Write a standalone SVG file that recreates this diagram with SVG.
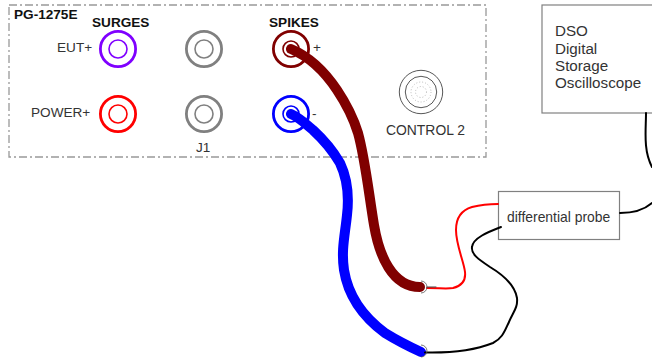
<svg xmlns="http://www.w3.org/2000/svg" width="652" height="358" viewBox="0 0 652 358">
<style>
text{font-family:"Liberation Sans",Arial,sans-serif;font-size:13.6px;fill:#333}
.b{font-weight:bold;fill:#111}
.d{font-size:15.2px}
.p{font-size:13.9px}
.o,.i{fill:#fff}
.o{stroke-width:2.8}
.i{stroke-width:1.6}
.box{fill:#fff;stroke:#808080;stroke-width:1.2}
.w{fill:none;stroke-linecap:round}
.th{stroke-width:10}
.tn{stroke-width:2}
.tip{fill:none;stroke:#555;stroke-width:.8}
</style>
<rect width="652" height="358" fill="#fff"/>
<g id="pg1275e"><rect x="9" y="5" width="477" height="152" fill="none" stroke="#999" stroke-width="1.3" stroke-dasharray="8 3 2 3"/><text x="14" y="19" class="b">PG-1275E</text><text x="92" y="27" class="b">SURGES</text><text x="269" y="27" class="b">SPIKES</text><text x="196" y="152">J1</text></g>
<g id="eut"><text x="57" y="52">EUT+</text><circle cx="118" cy="49" r="17.6" class="o" stroke="#7f00ff"/><circle cx="118" cy="49" r="9" class="i" stroke="#7f00ff"/></g>
<g id="power"><text x="31" y="117">POWER+</text><circle cx="118" cy="114" r="17.6" class="o" stroke="#f00"/><circle cx="118" cy="114" r="9" class="i" stroke="#f00"/></g>
<g id="j1a"><circle cx="204" cy="49" r="17.6" class="o" stroke="#808080"/><circle cx="204" cy="49" r="9" class="i" stroke="#808080"/></g>
<g id="j1b"><circle cx="204" cy="114" r="17.6" class="o" stroke="#808080"/><circle cx="204" cy="114" r="9" class="i" stroke="#808080"/></g>
<g id="spikes-plus"><circle cx="291" cy="49" r="17.6" class="o" stroke="#800000"/><circle cx="291" cy="49" r="8" class="i" stroke="#800000"/><text x="313" y="52">+</text></g>
<g id="spikes-minus"><circle cx="291" cy="114" r="17.6" class="o" stroke="#00f"/><circle cx="291" cy="114" r="8" class="i" stroke="#00f"/><text x="312" y="118">-</text></g>
<g id="control2" fill="none" stroke="#444"><circle cx="421" cy="92" r="21.7" stroke-width=".9"/><circle cx="421" cy="92" r="15.7" stroke-width=".9"/><circle cx="421" cy="92" r="10" stroke="#aaa" stroke-width=".8" stroke-dasharray="1 2"/><circle cx="421" cy="92" r="5.5" stroke="#aaa" stroke-width=".8" stroke-dasharray="1 2"/><text x="386" y="135" class="p" stroke="none">CONTROL 2</text></g>
<g id="dso"><rect x="542" y="5" width="115" height="108" class="box"/><text x="555" y="36" class="d">DSO</text><text x="555" y="54" class="d">Digital</text><text x="555" y="71" class="d">Storage</text><text x="555" y="88" class="d">Oscilloscope</text></g>
<g id="probe"><rect x="498.500" y="191.500" width="121" height="48" class="box"/><text x="507" y="222" class="p">differential probe</text></g>
<g id="connectors">
<path class="w th" stroke="#800000" d="M291 49C310 57 325 72 337 90C347 105 354 120 358 133C365 158 369 195 374 225C379 255 392 287 420 287"/>
<path class="w th" stroke="#00f" d="M291 114C300 118 307 125 313 130C325 141 333 151 340 163C348 180 349 198 347 215C345 235 341 250 344 270C348 295 362 316 385 333C398 341 410 347 421 352"/>
<path class="w tn" stroke="#f00" d="M427 288C440 288 447 289 453 288C461 286 466 281 465 272C464 262 456 245 456 230C456 218 462 210 472 207C480 205 490 204 498 204"/>
<path class="w" stroke="#444" stroke-width="1" d="M427 287H436"/>
<path class="w tn" stroke="#000" d="M425 352.500C445 353 470 352 493 343C503 338 505 330 509 322C513 312 518 308 517 298C515 286 505 276 490 267C478 259 471 254 472 247C473 238 488 232 501 227"/>
<path class="w tn" stroke="#000" d="M620 213C632 213 644 210 652 203"/>
<path class="w tn" stroke="#000" d="M646 113C646 130 643 150 652 167"/>
<path class="tip" d="M421 281a6 6 0 0 1 0 12M421 345a6 6 0 0 1 0 12"/>
</g>
</svg>
